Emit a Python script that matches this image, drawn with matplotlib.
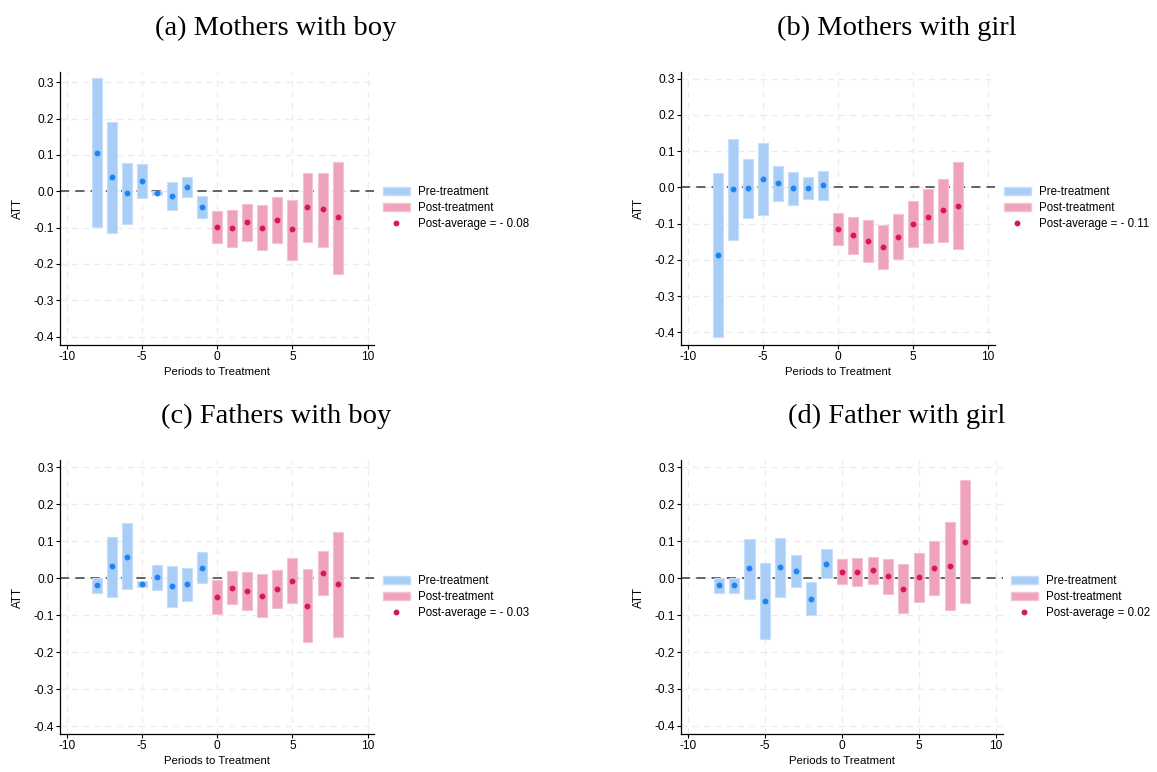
import numpy as np
import matplotlib.pyplot as plt
from matplotlib.patches import Patch
from matplotlib.lines import Line2D

periods = np.arange(-8, 9)

# (a) Mothers with boy
a_att = [0.105, 0.038, -0.005, 0.028, -0.005, -0.013, 0.011, -0.043,
         -0.098, -0.102, -0.085, -0.100, -0.080, -0.105, -0.044, -0.050, -0.072]
a_lo = [-0.099, -0.115, -0.090, -0.019, -0.011, -0.052, -0.017, -0.074,
        -0.143, -0.154, -0.138, -0.161, -0.143, -0.189, -0.141, -0.154, -0.227]
a_hi = [0.312, 0.191, 0.078, 0.075, 0.001, 0.026, 0.039, -0.013,
        -0.055, -0.051, -0.034, -0.039, -0.017, -0.023, 0.051, 0.051, 0.081]

# (b) Mothers with girl
b_att = [-0.186, -0.006, -0.003, 0.023, 0.012, -0.003, -0.002, 0.005,
         -0.114, -0.132, -0.147, -0.165, -0.136, -0.102, -0.081, -0.064, -0.051]
b_lo = [-0.413, -0.145, -0.084, -0.076, -0.037, -0.048, -0.033, -0.035,
        -0.159, -0.184, -0.205, -0.226, -0.199, -0.165, -0.154, -0.152, -0.170]
b_hi = [0.040, 0.132, 0.078, 0.121, 0.059, 0.042, 0.029, 0.045,
        -0.070, -0.081, -0.090, -0.104, -0.073, -0.039, -0.006, 0.024, 0.069]

# (c) Fathers with boy
c_att = [-0.018, 0.032, 0.059, -0.014, 0.003, -0.022, -0.016, 0.029,
         -0.050, -0.025, -0.033, -0.047, -0.030, -0.006, -0.074, 0.014, -0.016]
c_lo = [-0.039, -0.050, -0.030, -0.023, -0.031, -0.077, -0.061, -0.012,
        -0.096, -0.070, -0.085, -0.105, -0.081, -0.068, -0.171, -0.046, -0.159]
c_hi = [0.000, 0.113, 0.150, -0.007, 0.037, 0.032, 0.029, 0.070,
        -0.005, 0.019, 0.017, 0.011, 0.022, 0.054, 0.024, 0.073, 0.126]

# (d) Father with girl
d_att = [-0.018, -0.018, 0.027, -0.063, 0.029, 0.020, -0.056, 0.038,
         0.018, 0.017, 0.021, 0.005, -0.028, 0.002, 0.028, 0.034, 0.098]
d_lo = [-0.040, -0.040, -0.056, -0.165, -0.051, -0.023, -0.101, 0.000,
        -0.017, -0.021, -0.016, -0.044, -0.095, -0.064, -0.045, -0.086, -0.067]
d_hi = [0.000, 0.000, 0.107, 0.040, 0.110, 0.063, -0.011, 0.078,
        0.053, 0.054, 0.057, 0.053, 0.038, 0.067, 0.101, 0.153, 0.265]

titles = ['(a) Mothers with boy', '(b) Mothers with girl',
          '(c) Fathers with boy', '(d) Father with girl']
post_avg_labels = ['Post-average = - 0.08', 'Post-average = - 0.11',
                   'Post-average = - 0.03', 'Post-average = 0.02']
ytick_vals = [-0.4, -0.3, -0.2, -0.1, 0.0, 0.1, 0.2, 0.3]
ytick_labels = ['-0.4', '-0.3', '-0.2', '-0.1', '0.0', '0.1', '0.2', '0.3']
xtick_vals = [-10, -5, 0, 5, 10]
xtick_labels = ['-10', '-5', '0', '5', '10']

PRE_BAR, PRE_EDGE, PRE_DOT = '#a8cef8', '#c6def9', '#1f83f0'
POST_BAR, POST_EDGE, POST_DOT = '#eea3bb', '#f4c3d2', '#d6175a'

plt.rcParams['font.family'] = ['Liberation Sans', 'DejaVu Sans']
plt.rcParams['axes.unicode_minus'] = False

W, H = 1157, 772
fig = plt.figure(figsize=(W / 100, H / 100), dpi=100)

# pixel boxes (left, top, right, bottom) and limits for each panel
boxes = [(60, 72, 374, 345), (681, 72, 995, 345),
         (60, 460, 374, 734), (681, 460, 1003, 734)]
ylims = [(-0.423, 0.328), (-0.435, 0.318), (-0.421, 0.32), (-0.422, 0.32)]
xlims = [(-10.45, 10.42), (-10.47, 10.47), (-10.45, 10.42), (-10.45, 10.47)]
legend_pos = [(383, 208), (1004, 208), (383, 597), (1011, 597)]
title_pos = [(276, 35), (897, 35), (276, 423), (897, 423)]

data = [(a_att, a_lo, a_hi), (b_att, b_lo, b_hi),
        (c_att, c_lo, c_hi), (d_att, d_lo, d_hi)]

for i, (att, lo, hi) in enumerate(data):
    l, t, r, b = boxes[i]
    ax = fig.add_axes([l / W, 1 - b / H, (r - l) / W, (b - t) / H])
    att, lo, hi = np.array(att), np.array(lo), np.array(hi)
    pre = periods < 0
    post = ~pre

    ax.bar(periods[pre], (hi - lo)[pre], bottom=lo[pre], width=0.66,
           color=PRE_BAR, edgecolor=PRE_EDGE, linewidth=0.8, zorder=2)
    ax.bar(periods[post], (hi - lo)[post], bottom=lo[post], width=0.66,
           color=POST_BAR, edgecolor=POST_EDGE, linewidth=0.8, zorder=2)
    ax.plot(periods[pre], att[pre], 'o', color=PRE_DOT, ms=3.2, zorder=3)
    ax.plot(periods[post], att[post], 'o', color=POST_DOT, ms=3.2, zorder=3)

    ax.axhline(0, color='#3a3a3a', linestyle=(0, (6, 4)), linewidth=1.1, zorder=1.5)

    ax.set_xlim(*xlims[i])
    ax.set_ylim(*ylims[i])
    ax.set_xticks(xtick_vals)
    ax.set_xticklabels(xtick_labels)
    ax.set_yticks(ytick_vals)
    ax.set_yticklabels(ytick_labels)
    ax.grid(True, color='#ececec', linestyle=(0, (5, 4)), linewidth=0.9, zorder=0)
    ax.set_axisbelow(True)
    for s in ['top', 'right']:
        ax.spines[s].set_visible(False)
    for s in ['left', 'bottom']:
        ax.spines[s].set_linewidth(0.9)
    ax.tick_params(labelsize=8.6, length=3, width=0.8, pad=1.5)
    ax.set_xlabel('Periods to Treatment', fontsize=8.2, labelpad=3)
    ax.set_ylabel('ATT', fontsize=8.4, labelpad=6.5)

    handles = [Patch(facecolor=PRE_BAR, edgecolor=PRE_EDGE),
               Patch(facecolor=POST_BAR, edgecolor=POST_EDGE),
               Line2D([], [], marker='o', linestyle='none', color=POST_DOT, ms=3.2)]
    lx, ly = legend_pos[i]
    fig.legend(handles, ['Pre-treatment', 'Post-treatment', post_avg_labels[i]],
               loc='center left', bbox_to_anchor=(lx / W, 1 - ly / H),
               frameon=False, fontsize=8.3, handlelength=2.3, handleheight=0.8,
               handletextpad=0.7, labelspacing=0.35, borderpad=0, borderaxespad=0)

    tx, ty = title_pos[i]
    fig.text(tx / W, 1 - ty / H, titles[i], ha='center', va='baseline',
             fontsize=20.5, family=['Liberation Serif', 'DejaVu Serif'])

fig.savefig('out.png', dpi=100)
